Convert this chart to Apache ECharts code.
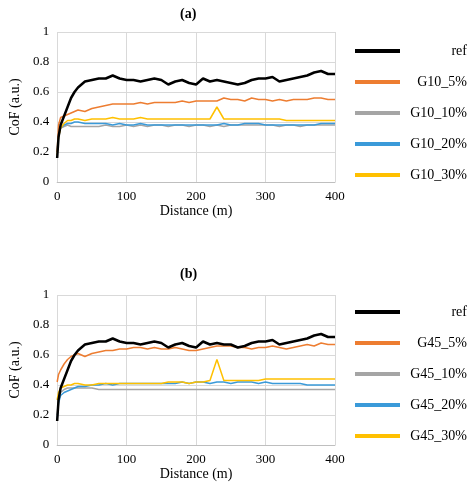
<!DOCTYPE html><html><head><meta charset="utf-8"><script src="https://cdn.jsdelivr.net/npm/echarts@6/dist/echarts.min.js"></script></head><body style="margin:0;background:#fff"><div id="c" style="width:474px;height:487px"></div><script>
const dist=[0,2,5,10,15,20,25,30,40,50,60,70,80,90,100,110,120,130,140,150,160,170,180,190,200,210,220,230,240,250,260,270,280,290,300,310,320,330,340,350,360,370,380,390,400];
const aRef=[0.16,0.3,0.38,0.44,0.5,0.56,0.6,0.63,0.67,0.68,0.69,0.69,0.71,0.69,0.68,0.68,0.67,0.68,0.69,0.68,0.65,0.67,0.68,0.66,0.65,0.69,0.67,0.68,0.67,0.66,0.65,0.66,0.68,0.69,0.69,0.70,0.67,0.68,0.69,0.70,0.71,0.73,0.74,0.72,0.72];
const aG5=[0.2,0.38,0.43,0.44,0.45,0.46,0.47,0.48,0.47,0.49,0.50,0.51,0.52,0.52,0.52,0.52,0.53,0.52,0.53,0.53,0.53,0.53,0.54,0.53,0.54,0.54,0.54,0.54,0.56,0.55,0.55,0.54,0.56,0.55,0.55,0.54,0.55,0.54,0.55,0.55,0.55,0.56,0.56,0.55,0.55];
const aG10=[0.2,0.3,0.36,0.37,0.38,0.37,0.37,0.37,0.37,0.37,0.37,0.38,0.37,0.37,0.38,0.37,0.38,0.37,0.38,0.38,0.37,0.38,0.38,0.37,0.38,0.38,0.37,0.38,0.37,0.38,0.38,0.38,0.38,0.38,0.38,0.38,0.37,0.38,0.38,0.37,0.38,0.38,0.38,0.38,0.38];
const aG20=[0.2,0.32,0.36,0.38,0.39,0.39,0.40,0.40,0.39,0.39,0.39,0.39,0.38,0.39,0.38,0.38,0.39,0.38,0.38,0.38,0.38,0.38,0.38,0.38,0.38,0.38,0.38,0.38,0.39,0.38,0.38,0.39,0.39,0.39,0.38,0.38,0.38,0.38,0.38,0.38,0.38,0.38,0.39,0.39,0.39];
const aG30=[0.18,0.3,0.36,0.39,0.41,0.41,0.42,0.42,0.41,0.42,0.42,0.42,0.43,0.42,0.42,0.42,0.43,0.42,0.42,0.42,0.42,0.42,0.42,0.42,0.42,0.42,0.42,0.50,0.42,0.42,0.42,0.42,0.42,0.42,0.42,0.42,0.42,0.41,0.41,0.41,0.41,0.41,0.41,0.41,0.41];
const bRef=[0.16,0.3,0.38,0.44,0.5,0.56,0.6,0.63,0.67,0.68,0.69,0.69,0.71,0.69,0.68,0.68,0.67,0.68,0.69,0.68,0.65,0.67,0.68,0.66,0.65,0.69,0.67,0.68,0.67,0.67,0.65,0.66,0.68,0.69,0.69,0.70,0.67,0.68,0.69,0.70,0.71,0.73,0.74,0.72,0.72];
const bG5=[0.42,0.47,0.5,0.54,0.57,0.59,0.6,0.61,0.59,0.61,0.62,0.63,0.63,0.64,0.64,0.65,0.65,0.64,0.65,0.64,0.64,0.65,0.64,0.63,0.63,0.64,0.65,0.66,0.66,0.66,0.65,0.65,0.64,0.65,0.65,0.66,0.65,0.64,0.65,0.66,0.67,0.66,0.68,0.67,0.67];
const bG10=[0.2,0.3,0.35,0.37,0.38,0.38,0.38,0.38,0.38,0.38,0.37,0.37,0.37,0.37,0.37,0.37,0.37,0.37,0.37,0.37,0.37,0.37,0.37,0.37,0.37,0.37,0.37,0.37,0.37,0.37,0.37,0.37,0.37,0.37,0.37,0.37,0.37,0.37,0.37,0.37,0.37,0.37,0.37,0.37,0.37];
const bG20=[0.17,0.28,0.33,0.35,0.36,0.37,0.38,0.39,0.39,0.40,0.40,0.41,0.40,0.41,0.41,0.41,0.41,0.41,0.41,0.41,0.41,0.41,0.42,0.41,0.42,0.42,0.41,0.42,0.42,0.41,0.42,0.42,0.42,0.41,0.42,0.41,0.41,0.41,0.41,0.41,0.40,0.40,0.40,0.40,0.40];
const bG30=[0.3,0.35,0.38,0.39,0.40,0.40,0.41,0.41,0.40,0.40,0.41,0.41,0.41,0.41,0.41,0.41,0.41,0.41,0.41,0.41,0.42,0.42,0.42,0.41,0.42,0.42,0.43,0.57,0.43,0.43,0.43,0.43,0.43,0.43,0.44,0.44,0.44,0.44,0.44,0.44,0.44,0.44,0.44,0.44,0.44];
const namesA=['ref','G10_5%','G10_10%','G10_20%','G10_30%'];
const namesB=['ref','G45_5%','G45_10%','G45_20%','G45_30%'];
const colors=['#000000','#ED7D31','#A5A5A5','#3A9AD9','#FFC000'];
const F='Liberation Serif';
const pair=v=>dist.map((d,i)=>[d,v[i]]);
function mk(names,arrs,gi){return arrs.map((v,i)=>({name:names[i],type:'line',xAxisIndex:gi,yAxisIndex:gi,data:pair(v),showSymbol:false,symbol:'none',lineStyle:{width:i===0?2.5:1.5,color:colors[i]},itemStyle:{color:colors[i]},z:i===0?5:(i===1?4:3)}));}
const ax=(gi)=>({gridIndex:gi,type:'value',min:0,max:400,interval:100,axisLine:{lineStyle:{color:'#bfbfbf'}},axisTick:{show:false},splitLine:{lineStyle:{color:'#d9d9d9'}},axisLabel:{fontFamily:F,fontSize:13,color:'#000'},name:'Distance (m)',nameLocation:'middle',nameGap:22,nameTextStyle:{fontFamily:F,fontSize:14,color:'#000'}});
const ay=(gi)=>({gridIndex:gi,type:'value',min:0,max:1,interval:0.2,axisLine:{show:false},axisTick:{show:false},splitLine:{lineStyle:{color:'#d9d9d9'}},axisLabel:{fontFamily:F,fontSize:13,color:'#000',formatter:v=>String(+v.toFixed(1))},name:'CoF (a.u.)',nameLocation:'middle',nameGap:30,nameTextStyle:{fontFamily:F,fontSize:14,color:'#000'}});
const lg=(names,top)=>({data:names,orient:'vertical',left:350,top:top,itemWidth:45,itemHeight:4,icon:'rect',itemGap:17,formatter:n=>'{a|'+n+'}',textStyle:{fontFamily:F,fontSize:14,color:'#000',rich:{a:{width:62,align:'right',fontFamily:F,fontSize:14,color:'#000'}}}});
const ch=echarts.init(document.getElementById('c'));
ch.setOption({animation:false,
title:[{text:'(a)',left:175,top:2,textStyle:{fontFamily:F,fontSize:14,fontWeight:'bold',color:'#000'}},{text:'(b)',left:175,top:262,textStyle:{fontFamily:F,fontSize:14,fontWeight:'bold',color:'#000'}}],
grid:[{left:47,top:32,width:288,height:150},{left:47,top:295,width:288,height:150}],
xAxis:[ax(0),ax(1)],yAxis:[ay(0),ay(1)],
legend:[lg(namesA,39),lg(namesB,300)],
series:[...mk(namesA,[aRef,aG5,aG10,aG20,aG30],0),...mk(namesB,[bRef,bG5,bG10,bG20,bG30],1)]});
</script></body></html>
